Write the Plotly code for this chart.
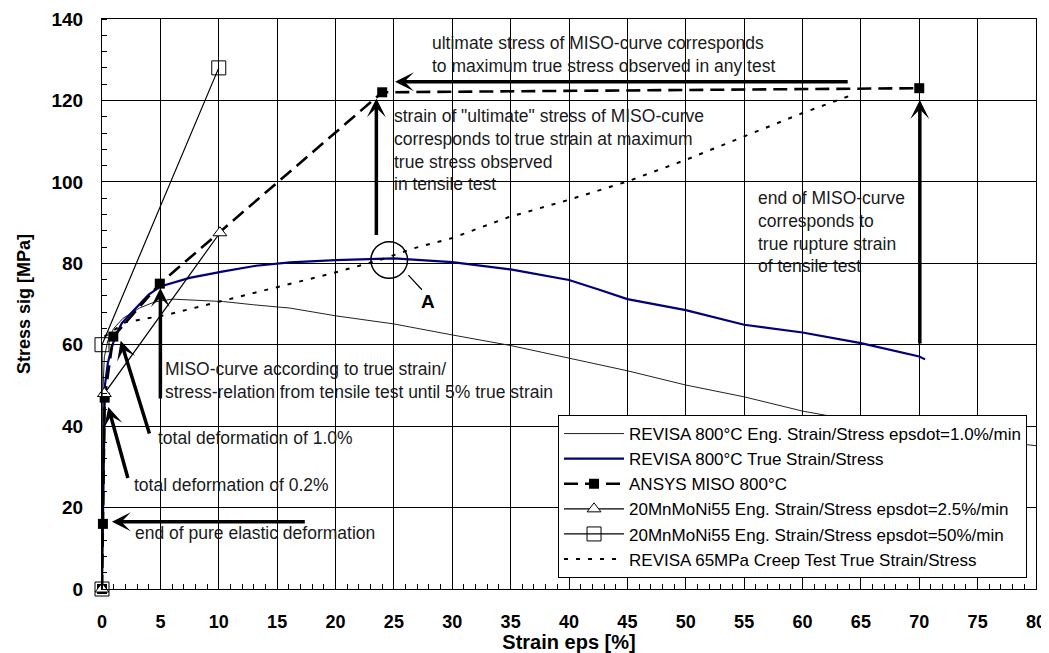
import plotly.graph_objects as go

# ---------------- data ----------------
eng_eps = [0, 0.05, 0.1, 0.2, 0.5, 1.0, 1.8, 3.2, 4.5, 6.0, 8.0, 10.4, 13.0, 16.1,
           20, 25, 30, 35, 40, 45, 50, 55, 60, 65, 70, 75, 80]
eng_sig = [0, 30, 50, 57, 61, 64, 66.5, 69, 70.5, 71.2, 71.0, 70.6, 69.8, 69.0,
           67.1, 65.1, 62.4, 59.8, 56.7, 53.6, 50.1, 47.2, 43.7, 41.1, 39.2, 36.8, 35.2]

true_eps = [0, 0.1, 0.15, 0.25, 0.5, 0.85, 1.2, 1.7, 2.4, 3.2, 4.0, 5.0, 7.5, 10.4,
            13.2, 16.1, 20, 25, 30, 35, 40, 42.6, 45, 50, 55, 60, 65, 70, 70.5]
true_sig = [0, 20, 40, 50, 55.5, 59.5, 62.5, 65.3, 67.5, 70.0, 72.3, 74.3, 76.4, 78.0,
            79.4, 80.2, 80.8, 81.2, 80.3, 78.5, 75.9, 73.5, 71.2, 68.5, 64.9, 63.0, 60.4, 57.1, 56.4]

miso_eps = [0, 0.08, 0.23, 0.97, 4.95, 24.0, 70.0]
miso_sig = [0, 16, 47, 62, 75, 122, 123]

tri_eps = [0, 0.2, 10.1]
tri_sig = [0, 48, 87.5]

sq_eps = [0, 0, 10.0]
sq_sig = [0, 60, 128]

creep_eps = [0.2, 2.0, 5.5, 10.7, 15.8, 19.8, 23.8, 26.6, 30, 34.8, 40, 45, 50, 55, 60, 64.5]
creep_sig = [62, 65.5, 67.3, 71.0, 74.7, 77.6, 80.8, 83.6, 86.2, 91.3, 95.6, 100.1, 105.4,
             111.1, 116.9, 121.6]

series_names = [
    "REVISA 800°C Eng. Strain/Stress epsdot=1.0%/min",
    "REVISA 800°C True Strain/Stress",
    "ANSYS MISO 800°C",
    "20MnMoNi55 Eng. Strain/Stress epsdot=2.5%/min",
    "20MnMoNi55 Eng. Strain/Stress epsdot=50%/min",
    "REVISA 65MPa Creep Test True Strain/Stress",
]

x_ticks = list(range(0, 81, 5))
y_ticks = list(range(0, 141, 20))

# annotation arrows: tail -> head (data units)
arrow_tail_x = [17.5, 2.25, 4.1, 5.0, 23.5, 64.0, 70.05]
arrow_tail_y = [16.5, 26.9, 37.8, 46.4, 86.6, 124.6, 59.9]
arrow_head_x = [0.85, 0.54, 1.6, 5.0, 23.5, 25.1, 70.05]
arrow_head_y = [16.5, 44.7, 61.0, 73.9, 120.5, 124.6, 120.1]

note_x = [2.68, 2.53, 4.63, 5.25, 24.84, 28.1, 56.0]
note_y = [13.8, 25.6, 37.1, 51.1, 107.8, 131.3, 87.6]
note_text = [
    "end of pure elastic deformation",
    "total deformation of 0.2%",
    "total deformation of 1.0%",
    "MISO-curve according to true strain/<br>stress-relation from tensile test until 5% true strain",
    "strain of \"ultimate\" stress of MISO-curve<br>corresponds to true strain at maximum<br>true stress observed<br>in tensile test",
    "ultimate stress of MISO-curve corresponds<br>to maximum true stress observed in any test",
    "end of MISO-curve<br>corresponds to<br>true rupture strain<br>of tensile test",
]

circle_center = (24.6, 80.8)
circle_rx, circle_ry = 1.57, 4.5
pointer_x = [26.24, 27.4]
pointer_y = [77.1, 73.5]
label_A = (27.9, 70.6)

# ---------------- figure ----------------
FONT = "Liberation Sans, Arial, sans-serif"
fig = go.Figure()

fig.add_trace(go.Scatter(x=eng_eps, y=eng_sig, mode="lines", name=series_names[0],
                         line=dict(color="#222222", width=1)))
fig.add_trace(go.Scatter(x=true_eps, y=true_sig, mode="lines", name=series_names[1],
                         line=dict(color="#00007a", width=2.2)))
fig.add_trace(go.Scatter(x=miso_eps, y=miso_sig, mode="lines+markers", name=series_names[2],
                         line=dict(color="black", width=2.6, dash="14px,7px"),
                         marker=dict(symbol="square", size=10, color="black"),
                         cliponaxis=False))
fig.add_trace(go.Scatter(x=tri_eps, y=tri_sig, mode="lines+markers", name=series_names[3],
                         line=dict(color="black", width=1.2),
                         marker=dict(symbol="triangle-up", size=12, color="white",
                                     line=dict(color="black", width=1)),
                         cliponaxis=False))
fig.add_trace(go.Scatter(x=sq_eps, y=sq_sig, mode="lines+markers", name=series_names[4],
                         line=dict(color="black", width=1.2),
                         marker=dict(symbol="square", size=14, color="rgba(255,255,255,0)",
                                     line=dict(color="black", width=1)),
                         cliponaxis=False))
fig.add_trace(go.Scatter(x=creep_eps, y=creep_sig, mode="lines", name=series_names[5],
                         line=dict(color="black", width=2, dash="4px,8px")))

annotations = []
for tx, ty, hx, hy in zip(arrow_tail_x, arrow_tail_y, arrow_head_x, arrow_head_y):
    annotations.append(dict(x=hx, y=hy, ax=tx, ay=ty, xref="x", yref="y",
                            axref="x", ayref="y", text="", showarrow=True,
                            arrowhead=3, arrowsize=0.9, arrowwidth=3.5,
                            arrowcolor="black", standoff=0))
for nx, ny, nt in zip(note_x, note_y, note_text):
    annotations.append(dict(x=nx, y=ny, xref="x", yref="y", text=nt, showarrow=False,
                            xanchor="left", yanchor="middle", align="left",
                            font=dict(family=FONT, size=17.5, color="#1a1a1a")))
annotations.append(dict(x=label_A[0], y=label_A[1], xref="x", yref="y", text="<b>A</b>",
                        showarrow=False, font=dict(family=FONT, size=19, color="black")))

shapes = [
    dict(type="circle", xref="x", yref="y",
         x0=circle_center[0] - circle_rx, x1=circle_center[0] + circle_rx,
         y0=circle_center[1] - circle_ry, y1=circle_center[1] + circle_ry,
         line=dict(color="black", width=1.5)),
    dict(type="line", xref="x", yref="y", x0=pointer_x[0], y0=pointer_y[0],
         x1=pointer_x[1], y1=pointer_y[1], line=dict(color="black", width=1.2)),
]

# the page body adds an 8px offset, so the figure is 8px smaller than the window
fig.update_layout(
    width=1041, height=645,
    margin=dict(l=94, r=13, t=11, b=64),
    paper_bgcolor="white", plot_bgcolor="white",
    font=dict(family=FONT, color="black"),
    annotations=annotations, shapes=shapes,
    legend=dict(x=0.9904, y=0.0193, xanchor="right", yanchor="bottom",
                bgcolor="white", bordercolor="black", borderwidth=1,
                font=dict(family=FONT, size=17, color="black"),
                itemwidth=60, tracegroupgap=0),
)
fig.update_xaxes(
    range=[0, 80], tickvals=x_ticks, ticktext=[str(v) for v in x_ticks],
    automargin=False,
    showgrid=True, gridcolor="black", gridwidth=1,
    showline=True, linecolor="black", linewidth=1.2, mirror=True,
    ticks="", zeroline=False,
    tickfont=dict(family=FONT, size=18, color="black", weight="bold"),
    ticklabelstandoff=16,
    minor=dict(dtick=1, tick0=0, ticks="inside", ticklen=5, tickcolor="black",
               tickwidth=1, showgrid=False),
    title=dict(text="<b>Strain eps [%]</b>", font=dict(family=FONT, size=20), standoff=0),
)
fig.update_yaxes(
    range=[0, 140], tickvals=y_ticks, ticktext=[str(v) for v in y_ticks],
    automargin=False,
    showgrid=True, gridcolor="black", gridwidth=1,
    showline=True, linecolor="black", linewidth=1.2, mirror=True,
    ticks="", zeroline=False,
    tickfont=dict(family=FONT, size=19, color="black", weight="bold"),
    ticklabelstandoff=14,
    minor=dict(dtick=4, tick0=0, ticks="inside", ticklen=5, tickcolor="black",
               tickwidth=1, showgrid=False),
    title=dict(text="<b>Stress sig [MPa]</b>", font=dict(family=FONT, size=18), standoff=16),
)

fig.write_html("out.html")
